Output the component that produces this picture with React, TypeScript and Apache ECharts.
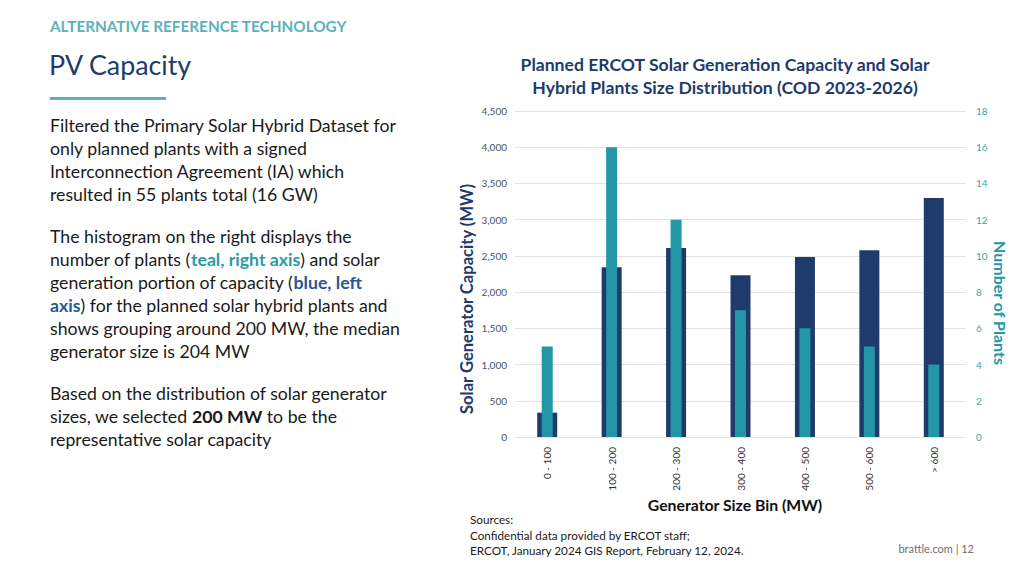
import React, { useEffect, useRef } from "react";
import * as echarts from "echarts";

const categories = ["0 - 100", "100 - 200", "200 - 300", "300 - 400", "400 - 500", "500 - 600", "> 600"];
const capacityMW = [336, 2343, 2609, 2232, 2485, 2577, 3300];
const plantCounts = [5, 16, 12, 7, 6, 5, 4];
const leftTicks = { min: 0, max: 4500, interval: 500 };
const rightTicks = { min: 0, max: 18, interval: 2 };

const NAVY = "#1f3b6c";
const TEAL = "#2397a7";
const FONT = "Lato, 'Open Sans', sans-serif";
const PF = "17.7px";

export default function App() {
  const ref = useRef<HTMLDivElement>(null);
  useEffect(() => {
    if (!ref.current) return;
    const chart = echarts.init(ref.current, null, { renderer: "svg" });
    const para = (y: number, text: string, rich?: any) => ({
      type: "text",
      left: 50,
      top: y,
      style: {
        text,
        font: `${PF} ${FONT}`,
        fill: "#1a1a1a",
        rich: rich,
      },
    });
    const baseRich = {
      a: { font: `${PF} ${FONT}`, fill: "#1a1a1a" },
      t: { font: `bold ${PF} ${FONT}`, fill: "#2a9aa8" },
      b: { font: `bold ${PF} ${FONT}`, fill: "#2a5693" },
      k: { font: `bold ${PF} ${FONT}`, fill: "#1a1a1a" },
    };
    const lh = 23;
    chart.setOption({
      animation: false,
      textStyle: { fontFamily: FONT },
      graphic: [
        { type: "text", left: 50, top: 18, style: { text: "ALTERNATIVE REFERENCE TECHNOLOGY", font: `bold 15.3px ${FONT}`, fill: "#5cb1bc" } },
        { type: "text", left: 49, top: 51, style: { text: "PV Capacity", font: `26.8px ${FONT}`, fill: NAVY } },
        { type: "rect", shape: { x: 50, y: 97, width: 116, height: 3 }, style: { fill: "#5cb1bc" } },
        para(116, "Filtered the Primary Solar Hybrid Dataset for"),
        para(116 + lh, "only planned plants with a signed"),
        para(116 + 2 * lh, "Interconnection Agreement (IA) which"),
        para(116 + 3 * lh, "resulted in 55 plants total (16 GW)"),
        para(227, "The histogram on the right displays the"),
        para(227 + lh, "{a|number of plants (}{t|teal, right axis}{a|) and solar}", baseRich),
        para(227 + 2 * lh, "{a|generation portion of capacity (}{b|blue, left}", baseRich),
        para(227 + 3 * lh, "{b|axis}{a|) for the planned solar hybrid plants and}", baseRich),
        para(227 + 4 * lh, "shows grouping around 200 MW, the median"),
        para(227 + 5 * lh, "generator size is 204 MW"),
        para(384, "Based on the distribution of solar generator"),
        para(384 + lh, "{a|sizes, we selected }{k|200 MW}{a| to be the}", baseRich),
        para(384 + 2 * lh, "representative solar capacity"),
        {
          type: "text", x: 725, y: 64,
          style: { text: "Planned ERCOT Solar Generation Capacity and Solar", font: `bold 17.6px ${FONT}`, fill: NAVY, textAlign: "center", textVerticalAlign: "middle" },
        },
        {
          type: "text", x: 725, y: 87,
          style: { text: "Hybrid Plants Size Distribution (COD 2023-2026)", font: `bold 17.6px ${FONT}`, fill: NAVY, textAlign: "center", textVerticalAlign: "middle" },
        },
        {
          type: "text", x: 467, y: 299, rotation: Math.PI / 2,
          style: { text: "Solar Generator Capacity (MW)", font: `bold 16.6px ${FONT}`, fill: NAVY, textAlign: "center", textVerticalAlign: "middle" },
        },
        {
          type: "text", x: 1000, y: 303, rotation: -Math.PI / 2,
          style: { text: "Number of Plants", font: `bold 16px ${FONT}`, fill: TEAL, textAlign: "center", textVerticalAlign: "middle" },
        },
        {
          type: "text", x: 735, y: 504,
          style: { text: "Generator Size Bin (MW)", font: `bold 15.8px ${FONT}`, fill: "#111111", textAlign: "center", textVerticalAlign: "middle" },
        },
        { type: "text", left: 470, top: 513, style: { text: "Sources:", font: `11.7px ${FONT}`, fill: "#1a1a1a" } },
        { type: "text", left: 470, top: 529, style: { text: "Confidential data provided by ERCOT staff;", font: `11.7px ${FONT}`, fill: "#1a1a1a" } },
        { type: "text", left: 470, top: 544, style: { text: "ERCOT, January 2024 GIS Report, February 12, 2024.", font: `11.7px ${FONT}`, fill: "#1a1a1a" } },
        { type: "text", right: 50, top: 543, style: { text: "brattle.com | 12", font: `11px ${FONT}`, fill: "#6e6e6e" } },
      ],
      grid: { left: 515, right: 58, top: 111, bottom: 139, containLabel: false },
      xAxis: [
        {
          type: "category",
          data: categories,
          axisLine: { show: true, lineStyle: { color: "#e3e3e3" } },
          axisTick: { show: false },
          axisLabel: { rotate: 90, fontSize: 10, color: "#333333", margin: 10, fontFamily: FONT },
        },
        { type: "category", data: categories, show: false, gridIndex: 0 },
      ],
      yAxis: [
        {
          type: "value",
          min: leftTicks.min,
          max: leftTicks.max,
          interval: leftTicks.interval,
          axisLabel: {
            fontSize: 10,
            color: "#4a5468",
            margin: 8,
            fontFamily: FONT,
            formatter: (v: number) => v.toLocaleString("en-US"),
          },
          splitLine: { lineStyle: { color: "#e3e3e3" } },
          axisLine: { show: false },
          axisTick: { show: false },
        },
        {
          type: "value",
          min: rightTicks.min,
          max: rightTicks.max,
          interval: rightTicks.interval,
          position: "right",
          axisLabel: { fontSize: 10, color: "#3fa3ad", margin: 10, fontFamily: FONT },
          splitLine: { show: false },
          axisLine: { show: false },
          axisTick: { show: false },
        },
      ],
      series: [
        {
          type: "bar",
          name: "Solar Generator Capacity (MW)",
          data: capacityMW,
          xAxisIndex: 0,
          yAxisIndex: 0,
          barWidth: 20,
          itemStyle: { color: NAVY },
        },
        {
          type: "bar",
          name: "Number of Plants",
          data: plantCounts,
          xAxisIndex: 1,
          yAxisIndex: 1,
          barWidth: 11,
          itemStyle: { color: TEAL },
        },
      ],
    });
    return () => chart.dispose();
  }, []);
  return (
    <div
      ref={ref}
      style={{ position: "absolute", left: 0, top: 0, width: 1024, height: 576, background: "#ffffff" }}
    />
  );
}
